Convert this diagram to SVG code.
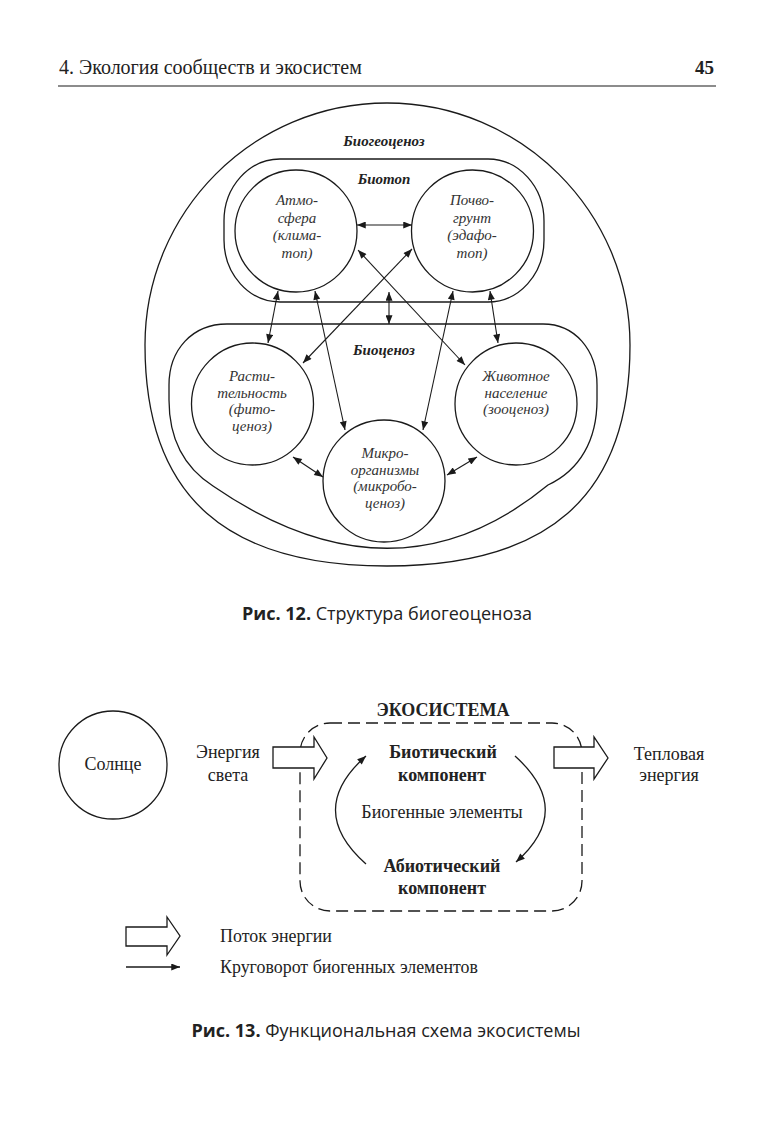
<svg xmlns="http://www.w3.org/2000/svg" width="774" height="1134" viewBox="0 0 774 1134">
<style>
.ln{fill:none;stroke:#1a1a1a;stroke-width:1.3}
.wf{fill:#fff;stroke:#1a1a1a;stroke-width:1.3}
.hd{font-family:"Liberation Serif","Times New Roman",serif;font-size:20px;fill:#222}
.pg{font-family:"Liberation Serif","Times New Roman",serif;font-size:19px;font-weight:bold;fill:#222;text-anchor:end}
.it{font-family:"Liberation Serif","Times New Roman",serif;font-style:italic;font-size:15px;fill:#333;text-anchor:middle}
.bi{font-family:"Liberation Serif","Times New Roman",serif;font-style:italic;font-weight:bold;font-size:15px;fill:#222;text-anchor:middle}
.rg{font-family:"Liberation Serif","Times New Roman",serif;font-size:18px;fill:#222;text-anchor:middle}
.bd{font-family:"Liberation Serif","Times New Roman",serif;font-weight:bold;font-size:18px;fill:#222;text-anchor:middle}
.lg{font-family:"Liberation Serif","Times New Roman",serif;font-size:17.9px;fill:#222}
.cap{font-family:"Open Sans","Noto Sans",sans-serif;font-size:18px;fill:#222;text-anchor:middle}
.dash{fill:none;stroke:#1a1a1a;stroke-width:1.3;stroke-dasharray:12 6}
.arr{fill:none;stroke:#1a1a1a;stroke-width:1.1;marker-start:url(#ah);marker-end:url(#ah)}
.arr1{fill:none;stroke:#1a1a1a;stroke-width:1.3;marker-end:url(#ah)}
</style>
<defs>
<marker id="ah" viewBox="0 0 10 8" refX="10" refY="4" markerWidth="10" markerHeight="7" orient="auto-start-reverse" markerUnits="userSpaceOnUse">
<path d="M0,0 L10,4 L0,8 z" fill="#1a1a1a"/>
</marker>
</defs>
<rect width="774" height="1134" fill="#fff"/>

<g id="header">
<text class="hd" x="59" y="74">4. Экология сообществ и экосистем</text>
<text class="pg" x="714" y="74">45</text>
<line x1="58" y1="86" x2="716" y2="86" stroke="#1a1a1a" stroke-width="1.2"/>
</g>

<g id="fig12">
<g id="biogeocenosis">
<path class="ln" d="M145,345 C145,212 253,103 387,103 C521,103 630,212 630,345 C630,499 545,566 387,566 C229,566 145,499 145,345 Z"/>
<text class="bi" x="384" y="146">Биогеоценоз</text>
</g>
<g id="biotope">
<rect class="ln" x="224" y="159" width="320" height="143" rx="56" ry="62"/>
<text class="bi" x="384" y="184">Биотоп</text>
</g>
<g id="biocenosis">
<path class="ln" d="M213,486 C185,468 169,440 169,400 L169,385 C169,350 192,324 227,324 L543,324 C575,324 597,350 597,385 L597,400 C597,440 580,470 548,485 Q395,611 213,486 Z"/>
<text class="bi" x="384" y="355">Биоценоз</text>
</g>
<g id="atmosphere">
<circle class="ln" cx="296" cy="231" r="61"/>
<text class="it" x="297" y="205">Атмо-</text>
<text class="it" x="297" y="222.5">сфера</text>
<text class="it" x="297" y="240">(клима-</text>
<text class="it" x="297" y="257.5">топ)</text>
</g>
<g id="soil">
<circle class="ln" cx="472.5" cy="231" r="61"/>
<text class="it" x="472" y="205">Почво-</text>
<text class="it" x="472" y="222.5">грунт</text>
<text class="it" x="472" y="240">(эдафо-</text>
<text class="it" x="472" y="257.5">топ)</text>
</g>
<g id="vegetation">
<circle class="ln" cx="252.5" cy="404" r="61"/>
<text class="it" x="252" y="381">Расти-</text>
<text class="it" x="252" y="397.5">тельность</text>
<text class="it" x="252" y="414">(фито-</text>
<text class="it" x="252" y="431">ценоз)</text>
</g>
<g id="animals">
<circle class="ln" cx="516" cy="404" r="61"/>
<text class="it" x="516" y="381">Животное</text>
<text class="it" x="516" y="397.5">население</text>
<text class="it" x="516" y="414">(зооценоз)</text>
</g>
<g id="microorganisms">
<circle class="ln" cx="384" cy="481" r="61"/>
<text class="it" x="385" y="458">Микро-</text>
<text class="it" x="385" y="474.5">организмы</text>
<text class="it" x="385" y="491">(микробо-</text>
<text class="it" x="385" y="507.5">ценоз)</text>
</g>
<g id="connectors12">
<line class="arr" x1="357" y1="225" x2="412" y2="225"/>
<line class="arr" x1="358" y1="250" x2="465" y2="365"/>
<line class="arr" x1="412" y1="249" x2="303" y2="363"/>
<line class="arr" x1="278" y1="291" x2="268" y2="343"/>
<line class="arr" x1="315" y1="291" x2="345" y2="430"/>
<line class="arr" x1="453" y1="291" x2="423" y2="430"/>
<line class="arr" x1="490" y1="291" x2="498" y2="343"/>
<line class="arr" x1="389" y1="292" x2="389" y2="324"/>
<line class="arr" x1="293" y1="457" x2="323" y2="477"/>
<line class="arr" x1="447" y1="475" x2="477" y2="457"/>
</g>
<text class="cap" x="387" y="620"><tspan font-weight="bold">Рис. 12.</tspan> Структура биогеоценоза</text>
</g>

<g id="fig13">
<g id="ecosystem">
<rect class="dash" x="300" y="723" width="282" height="188" rx="30" ry="30"/>
<text class="bd" x="443" y="716">ЭКОСИСТЕМА</text>
</g>
<g id="sun">
<circle class="ln" cx="113" cy="765" r="54"/>
<text class="rg" x="113" y="770">Солнце</text>
</g>
<g id="light">
<text class="rg" x="228" y="758">Энергия</text>
<text class="rg" x="228" y="781">света</text>
</g>
<g id="heat">
<text class="rg" x="669" y="760">Тепловая</text>
<text class="rg" x="669" y="781">энергия</text>
</g>
<g id="biotic">
<text class="bd" x="443" y="758">Биотический</text>
<text class="bd" x="442" y="781">компонент</text>
</g>
<g id="abiotic">
<text class="bd" x="442" y="872">Абиотический</text>
<text class="bd" x="442" y="894">компонент</text>
</g>
<g id="nutrients">
<text class="rg" x="442" y="818">Биогенные элементы</text>
</g>
<g id="connectors13">
<path class="wf" d="M273,747 L314,747 L314,737 L327,758 L314,779 L314,768 L273,768 Z"/>
<path class="wf" d="M554,747 L594,747 L594,737 L608,758 L594,779 L594,768 L554,768 Z"/>
<path class="arr1" d="M366,864 Q305,810 366,756"/>
<path class="arr1" d="M515,756 Q575,810 516,862"/>
</g>
<g id="legend">
<path class="wf" d="M126,927 L167,927 L167,917 L180,936 L167,955 L167,946 L126,946 Z"/>
<line class="arr1" x1="126" y1="967" x2="180" y2="967"/>
<text class="lg" x="220" y="942">Поток энергии</text>
<text class="lg" x="220" y="973">Круговорот биогенных элементов</text>
</g>
<text class="cap" x="386" y="1037"><tspan font-weight="bold">Рис. 13.</tspan> Функциональная схема экосистемы</text>
</g>
</svg>
